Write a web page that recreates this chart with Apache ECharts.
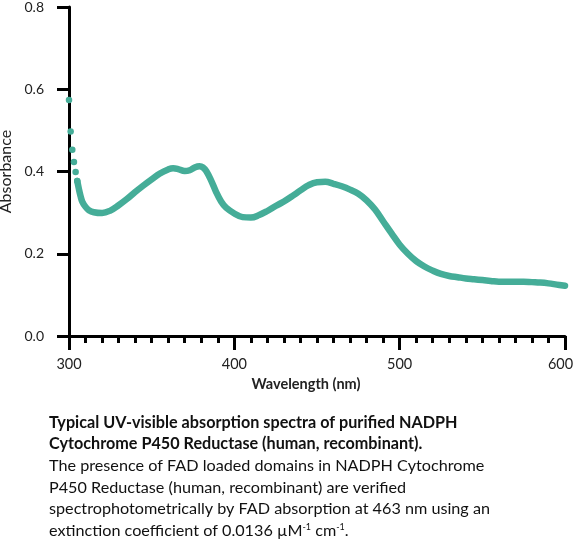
<!DOCTYPE html>
<html>
<head>
<meta charset="utf-8">
<script src="https://cdn.jsdelivr.net/npm/echarts@6/dist/echarts.min.js"></script>
<style>
html,body{margin:0;padding:0;background:#fff;}
#chart{width:573px;height:540px;}
</style>
</head>
<body>
<div id="chart"></div>
<script>
// Wavelength (nm) and absorbance
var wavelengths = [300,301,302,303,304,305,306,307,308,310,312,315,320,325,330,335,340,345,350,355,360,363,366,370,373,376,379,381,383,386,389,392,395,400,405,410,415,420,425,430,435,440,445,450,455,460,465,470,475,480,485,490,495,500,505,510,515,520,525,530,535,540,545,550,555,560,565,570,575,580,585,590,595,600];
var absorbance = [0.574,0.497,0.453,0.423,0.399,0.377,0.357,0.340,0.327,0.314,0.306,0.301,0.299,0.305,0.318,0.333,0.350,0.366,0.381,0.395,0.405,0.408,0.406,0.401,0.403,0.410,0.413,0.410,0.401,0.378,0.350,0.327,0.312,0.298,0.289,0.288,0.294,0.304,0.316,0.327,0.340,0.354,0.367,0.374,0.375,0.370,0.364,0.356,0.346,0.330,0.308,0.279,0.250,0.222,0.200,0.182,0.169,0.159,0.151,0.146,0.143,0.140,0.138,0.136,0.134,0.132,0.132,0.132,0.132,0.131,0.130,0.128,0.125,0.122];
var xTicks = [300,400,500,600];
var yTicks = [0.0,0.2,0.4,0.6,0.8];
var xName = 'Wavelength (nm)';
var yName = 'Absorbance';
var captionBold = ['Typical UV-visible absorption spectra of purified NADPH','Cytochrome P450 Reductase (human, recombinant).'];
var captionText = ['The presence of FAD loaded domains in NADPH Cytochrome','P450 Reductase (human, recombinant) are verified','spectrophotometrically by FAD absorption at 463 nm using an'];
var captionLast = 'extinction coefficient of 0.0136 \u00b5M{s|-1} cm{s|-1}.';

var pts = wavelengths.map(function(w,i){return [w, absorbance[i]];});
var dotCount = 6; // sparse leading points drawn as separate dots
var dots = pts.slice(0, dotCount);
var line = pts.slice(dotCount - 1);
var teal = '#45ad98';

var chart = echarts.init(document.getElementById('chart'), null, {renderer:'canvas'});
var font = 'Lato, "Open Sans", sans-serif';
var graphics = [];
var y0 = 424, lh = 21.6;
captionBold.forEach(function(t,i){
  graphics.push({type:'text', left:49, top:y0 + i*lh - 9.5, style:{text:t, font:'bold 16.2px ' + font, fill:'#111'}});
});
captionText.forEach(function(t,i){
  graphics.push({type:'text', left:49, top:y0 + (i+2)*lh - 9.5, style:{text:t, font:'16.2px ' + font, fill:'#111'}});
});
graphics.push({type:'text', left:49, top:y0 + 5*lh - 9.5, style:{text:captionLast, font:'16.2px ' + font, fill:'#111',
  rich:{s:{fontSize:9, fontFamily:font, verticalAlign:'top', fill:'#111', padding:[0,0,8,0]}}}});

var xMax = xTicks[xTicks.length - 1];
chart.setOption({
  animation:false,
  backgroundColor:'#fff',
  grid:{left:69, right:8, top:7, bottom:204, containLabel:false, outerBoundsMode:'none'},
  xAxis:{
    type:'value', min:300, max:600, interval:100,
    name:xName, nameLocation:'middle', nameGap:41,
    nameTextStyle:{fontFamily:font, fontWeight:'bold', fontSize:14.5, color:'#222', padding:[0,22,0,0]},
    axisLine:{show:true, onZero:false, lineStyle:{color:'#000', width:3}},
    axisTick:{show:true, length:14, lineStyle:{color:'#000', width:3}},
    minorTick:{show:true, splitNumber:10, length:7, lineStyle:{color:'#000', width:3}},
    splitLine:{show:false}, minorSplitLine:{show:false},
    axisLabel:{margin:21, fontFamily:font, fontSize:14.5, color:'#222',
      rich:{m:{fontFamily:font, fontSize:14.5, color:'#222', padding:[0,9,0,0]}},
      formatter:function(v){
        if (xTicks.indexOf(v) < 0) return '';
        return v === xMax ? '{m|' + v + '}' : String(v);
      }}
  },
  yAxis:{
    type:'value', min:0, max:0.8, interval:0.2,
    name:yName, nameLocation:'middle', nameGap:54,
    nameTextStyle:{fontFamily:font, fontWeight:'normal', fontSize:16, color:'#222'},
    axisLine:{show:true, onZero:false, lineStyle:{color:'#000', width:3}},
    axisTick:{show:true, length:12, lineStyle:{color:'#000', width:3}},
    splitLine:{show:false},
    axisLabel:{margin:25, fontFamily:font, fontSize:14, color:'#222',
      formatter:function(v){var r = yTicks.filter(function(t){return Math.abs(t-v)<1e-9;}); return r.length ? r[0].toFixed(1) : '';}}
  },
  series:[
    {type:'line', data:line, smooth:0.4, showSymbol:false, lineStyle:{color:teal, width:6.5, cap:'round', join:'round'}, itemStyle:{color:teal}, z:3},
    {type:'scatter', data:dots, symbolSize:6.5, itemStyle:{color:teal, opacity:1}, z:4}
  ],
  graphic:graphics
});
</script>
</body>
</html>
